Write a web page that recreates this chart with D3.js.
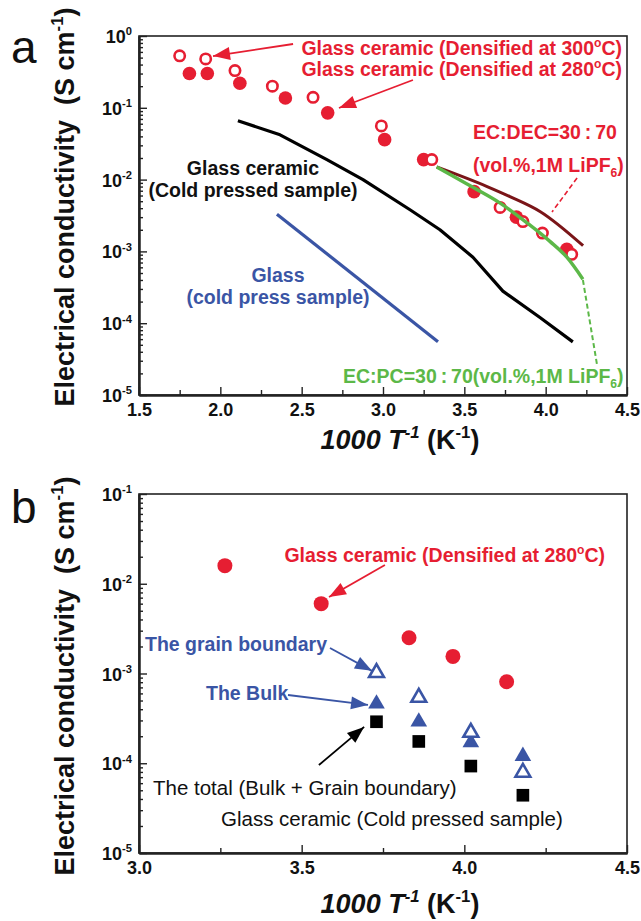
<!DOCTYPE html>
<html>
<head>
<meta charset="utf-8">
<script src="https://cdn.jsdelivr.net/npm/d3@7"></script>
<style>
body { margin: 0; background: #fff; }
text { font-family: "Liberation Sans", Arial, sans-serif; }
</style>
</head>
<body>
<svg id="chart" width="641" height="921"></svg>
<script>
// ---- panel a ----
var a300X = [1.75, 1.91, 2.09, 2.32, 2.57, 2.99, 3.30, 3.72, 3.86, 3.98, 4.16];
var a300Y = [0.53, 0.48, 0.33, 0.20, 0.14, 0.056, 0.019, 0.0041, 0.0026, 0.0018, 0.00091];
var a280X = [1.81, 1.92, 2.12, 2.40, 2.66, 3.01, 3.25, 3.56, 3.82, 4.13];
var a280Y = [0.30, 0.30, 0.22, 0.137, 0.085, 0.036, 0.019, 0.0068, 0.0030, 0.00107];
var decX = [3.33, 3.64, 3.78, 3.965, 4.23];
var decY = [0.015, 0.0080, 0.0058, 0.0036, 0.0012];
var pcX = [3.33, 3.553, 3.72, 3.885, 4.026, 4.13, 4.229];
var pcY = [0.015, 0.0078, 0.0047, 0.0025, 0.00138, 0.00083, 0.00041];
var coldX = [2.108, 2.367, 2.655, 2.877, 3.166, 3.35, 3.553, 3.737, 3.965, 4.167];
var coldY = [0.066, 0.042, 0.019, 0.010, 0.0038, 0.0020, 0.00083, 0.00028, 0.00012, 0.000055];
var glassX = [2.348, 3.338];
var glassY = [0.0033, 0.000055];

// ---- panel b ----
var b280X = [3.264, 3.56, 3.83, 3.965, 4.13];
var b280Y = [0.0159, 0.0060, 0.0025, 0.00155, 0.00081];
var bX = [3.73, 3.86, 4.02, 4.18];
var grainY = [0.00102, 0.00054, 0.00022, 0.000079];
var bulkY = [0.00046, 0.00029, 0.00017, 0.00012];
var totalY = [0.00029, 0.000175, 0.000093, 0.000044];

// ticks
var aXTicks = [1.5, 2.0, 2.5, 3.0, 3.5, 4.0, 4.5];
var bXTicks = [3.0, 3.5, 4.0, 4.5];
var aYExp = [0, -1, -2, -3, -4, -5];
var bYExp = [-1, -2, -3, -4, -5];

var RED = '#e61e32', BLUE = '#3a55a5', GREEN = '#5cb848', DARK = '#7a1518';

var svg = d3.select('#chart');

var defs = svg.append('defs');
[['red', RED], ['blue', BLUE], ['black', '#000']].forEach(function(m) {
    defs.append('marker')
        .attr('id', 'head-' + m[0])
        .attr('viewBox', '-18 -7 19 14')
        .attr('refX', 0).attr('refY', 0)
        .attr('markerUnits', 'userSpaceOnUse')
        .attr('markerWidth', 19).attr('markerHeight', 14)
        .attr('orient', 'auto')
        .append('path')
        .attr('d', 'M0,0L-17,-6.5L-17,6.5Z')
        .attr('fill', m[1]);
});

// text with sup / sub / italic parts
function rich(sel, parts, size) {
    var shift = 0;
    parts.forEach(function(p) {
        var target = p.sup ? -size * 0.42 : (p.sub ? size * 0.28 : 0);
        var ts = sel.append('tspan').text(p.t).attr('dy', target - shift);
        shift = target;
        if (p.sup || p.sub) ts.attr('font-size', size * 0.62);
        if (p.it) ts.attr('font-style', 'italic');
    });
    return sel;
}

function frame(x, y, xTicks, yExp, minorX) {
    var g = svg.append('g');
    var x0 = x.range()[0], x1 = x.range()[1], y0 = y.range()[1], y1 = y.range()[0];
    g.append('rect')
        .attr('x', x0).attr('y', y0)
        .attr('width', x1 - x0).attr('height', y1 - y0)
        .attr('fill', 'none').attr('stroke', '#222').attr('stroke-width', 1.6);

    // minor y ticks
    var minor = [];
    yExp.forEach(function(e) {
        for (var k = 2; k <= 9; k++) {
            var v = k * Math.pow(10, e - 1);
            if (v > y.domain()[0] && v < y.domain()[1]) minor.push(v);
        }
    });
    g.append('g').attr('transform', 'translate(' + x0 + ',0)')
        .call(d3.axisLeft(y).tickValues(minor).tickSizeInner(-4).tickSizeOuter(0).tickFormat(''));
    var yMajor = g.append('g').attr('transform', 'translate(' + x0 + ',0)')
        .call(d3.axisLeft(y).tickValues(yExp.map(function(e) { return Math.pow(10, e); }))
            .tickSizeInner(-8).tickSizeOuter(0).tickPadding(7).tickFormat(''));
    yMajor.selectAll('.tick text').remove();
    yMajor.selectAll('.tick').append('text')
        .attr('x', -7).attr('y', 6.5)
        .attr('text-anchor', 'end').attr('fill', '#111')
        .attr('font-size', 18).attr('font-weight', 'bold')
        .each(function(d) {
            var e = Math.round(Math.log10(d));
            rich(d3.select(this), [{t: '10'}, {t: String(e), sup: true}], 18);
        });

    g.append('g').attr('transform', 'translate(0,' + y1 + ')')
        .call(d3.axisBottom(x).tickValues(minorX).tickSizeInner(-5).tickSizeOuter(0).tickFormat(''));
    var xMajor = g.append('g').attr('transform', 'translate(0,' + y1 + ')')
        .call(d3.axisBottom(x).tickValues(xTicks).tickSizeInner(-8).tickSizeOuter(0)
            .tickPadding(10).tickFormat(d3.format('.1f')));
    xMajor.selectAll('.tick text')
        .attr('y', 21).attr('dy', 0)
        .attr('font-size', 18).attr('font-weight', 'bold').attr('fill', '#111')
        .attr('font-family', '"Liberation Sans", Arial, sans-serif');

    g.selectAll('.domain').attr('stroke', '#222').attr('stroke-width', 2);
    g.selectAll('.tick line').attr('stroke', '#222').attr('stroke-width', 1.4);
    return g;
}

function yTitle(cx, cy) {
    var t = svg.append('text')
        .attr('transform', 'translate(' + cx + ',' + cy + ') rotate(-90)')
        .attr('text-anchor', 'middle').attr('font-size', 27).attr('font-weight', 'bold').attr('fill', '#111');
    rich(t, [{t: 'Electrical conductivity\u00a0\u00a0(S cm'}, {t: '-1', sup: true}, {t: ')'}], 27);
}

function xTitle(cx, cy) {
    var t = svg.append('text')
        .attr('x', cx).attr('y', cy)
        .attr('text-anchor', 'middle').attr('font-size', 27).attr('font-weight', 'bold').attr('fill', '#111');
    rich(t, [{t: '1000 T', it: true}, {t: '-1', sup: true, it: true}, {t: ' (K'}, {t: '-1', sup: true}, {t: ')'}], 27);
}

function note(x, y, parts, color, anchor, weight, size) {
    var t = svg.append('text')
        .attr('x', x).attr('y', y)
        .attr('text-anchor', anchor || 'start')
        .attr('font-size', size || 19.5)
        .attr('font-weight', weight || 'bold')
        .attr('fill', color);
    rich(t, parts, size || 19.5);
}

function arrow(x, y, from, to, color, head) {
    svg.append('line')
        .attr('x1', x(from[0])).attr('y1', y(from[1]))
        .attr('x2', x(to[0])).attr('y2', y(to[1]))
        .attr('stroke', color).attr('stroke-width', 1.8)
        .attr('marker-end', 'url(#head-' + head + ')');
}

function zip(xs, ys) { return xs.map(function(v, i) { return [v, ys[i]]; }); }

// ================= panel a =================
var xa = d3.scaleLinear().domain([1.5, 4.5]).range([139, 627]);
var ya = d3.scaleLog().domain([1e-5, 1]).range([395, 36]);
frame(xa, ya, aXTicks, aYExp, [1.75, 2.25, 2.75, 3.25, 3.75, 4.25]);

var lineA = d3.line()
    .x(function(d) { return xa(d[0]); }).y(function(d) { return ya(d[1]); });
var smoothA = d3.line().curve(d3.curveMonotoneX)
    .x(function(d) { return xa(d[0]); }).y(function(d) { return ya(d[1]); });

svg.append('path').datum(zip(coldX, coldY)).attr('d', lineA)
    .attr('fill', 'none').attr('stroke', '#000').attr('stroke-width', 3.2)
    .attr('stroke-linejoin', 'round');
svg.append('path').datum(zip(glassX, glassY)).attr('d', lineA)
    .attr('fill', 'none').attr('stroke', BLUE).attr('stroke-width', 3.2);

// filled 280 C, open 300 C
svg.append('g').selectAll('circle').data(zip(a280X, a280Y)).enter().append('circle')
    .attr('cx', function(d) { return xa(d[0]); })
    .attr('cy', function(d) { return ya(d[1]); })
    .attr('r', 6.8).attr('fill', RED);
svg.append('g').selectAll('circle').data(zip(a300X, a300Y)).enter().append('circle')
    .attr('cx', function(d) { return xa(d[0]); })
    .attr('cy', function(d) { return ya(d[1]); })
    .attr('r', 5.2).attr('fill', '#fff').attr('stroke', RED).attr('stroke-width', 2.6);

svg.append('path').datum(zip(decX, decY)).attr('d', smoothA)
    .attr('fill', 'none').attr('stroke', DARK).attr('stroke-width', 3);
svg.append('path').datum(zip(pcX, pcY)).attr('d', smoothA)
    .attr('fill', 'none').attr('stroke', GREEN).attr('stroke-width', 3.4);

// dashed leaders
svg.append('line')
    .attr('x1', xa(4.193)).attr('y1', ya(0.0105)).attr('x2', xa(4.039)).attr('y2', ya(0.00354))
    .attr('stroke', RED).attr('stroke-width', 1.6).attr('stroke-dasharray', '5,3');
svg.append('line')
    .attr('x1', xa(4.229)).attr('y1', ya(0.0004)).attr('x2', xa(4.315)).attr('y2', ya(0.000027))
    .attr('stroke', GREEN).attr('stroke-width', 2).attr('stroke-dasharray', '5,3');

arrow(xa, ya, [2.447, 0.774], [1.955, 0.526], RED, 'red');
arrow(xa, ya, [3.184, 0.244], [2.729, 0.0994], RED, 'red');

note(622, 55, [{t: 'Glass ceramic (Densified at 300'}, {t: 'o', sup: true}, {t: 'C)'}], RED, 'end');
note(622, 76, [{t: 'Glass ceramic (Densified at 280'}, {t: 'o', sup: true}, {t: 'C)'}], RED, 'end');
note(473, 139, [{t: 'EC:DEC=30\u2009:\u200970'}], RED);
note(473, 172, [{t: '(vol.%,1M LiPF'}, {t: '6', sub: true}, {t: ')'}], RED);
note(253, 175, [{t: 'Glass ceramic'}], '#111', 'middle');
note(253, 197, [{t: '(Cold pressed sample)'}], '#111', 'middle');
note(278, 282, [{t: 'Glass'}], BLUE, 'middle');
note(278, 304, [{t: '(cold press sample)'}], BLUE, 'middle');
note(343, 383, [{t: 'EC:PC=30\u2009:\u200970(vol.%,1M LiPF'}, {t: '6', sub: true}, {t: ')'}], GREEN);

yTitle(74, 207);
xTitle(400, 449);
svg.append('text').attr('x', 11).attr('y', 63)
    .attr('font-size', 46).attr('fill', '#111').text('a');

// ================= panel b =================
var xb = d3.scaleLinear().domain([3.0, 4.5]).range([139, 627]);
var yb = d3.scaleLog().domain([1e-5, 1e-1]).range([853, 494]);
frame(xb, yb, bXTicks, bYExp, [3.25, 3.75, 4.25]);

svg.append('g').selectAll('circle').data(zip(b280X, b280Y)).enter().append('circle')
    .attr('cx', function(d) { return xb(d[0]); })
    .attr('cy', function(d) { return yb(d[1]); })
    .attr('r', 7.5).attr('fill', RED);

var tri = d3.symbol().type(d3.symbolTriangle).size(120);
svg.append('g').selectAll('path').data(zip(bX, totalY)).enter().append('path')
    .attr('transform', function(d) { return 'translate(' + xb(d[0]) + ',' + yb(d[1]) + ')'; })
    .attr('d', d3.symbol().type(d3.symbolSquare).size(160))
    .attr('fill', '#000');
svg.append('g').selectAll('path').data(zip(bX, bulkY)).enter().append('path')
    .attr('transform', function(d) { return 'translate(' + xb(d[0]) + ',' + yb(d[1]) + ')'; })
    .attr('d', tri).attr('fill', BLUE);
svg.append('g').selectAll('path').data(zip(bX, grainY)).enter().append('path')
    .attr('transform', function(d) { return 'translate(' + xb(d[0]) + ',' + yb(d[1]) + ')'; })
    .attr('d', d3.symbol().type(d3.symbolTriangle).size(95))
    .attr('fill', '#fff').attr('stroke', BLUE).attr('stroke-width', 2.6);

arrow(xb, yb, [3.756, 0.01618], [3.584, 0.00711], RED, 'red');
arrow(xb, yb, [3.587, 0.00192], [3.716, 0.00107], BLUE, 'blue');
arrow(xb, yb, [3.458, 0.000576], [3.704, 0.000446], BLUE, 'blue');
arrow(xb, yb, [3.553, 0.0000955], [3.692, 0.000254], '#000', 'black');

note(605, 562, [{t: 'Glass ceramic (Densified at 280'}, {t: 'o', sup: true}, {t: 'C)'}], RED, 'end');
note(145, 651, [{t: 'The grain boundary'}], BLUE);
note(206, 700, [{t: 'The Bulk'}], BLUE);
note(153, 795, [{t: 'The total (Bulk + Grain boundary)'}], '#111', 'start', 'normal', 20.5);
note(221, 826, [{t: 'Glass ceramic (Cold pressed sample)'}], '#111', 'start', 'normal', 20.5);

yTitle(74, 676);
xTitle(400, 913);
svg.append('text').attr('x', 11).attr('y', 523)
    .attr('font-size', 46).attr('fill', '#111').text('b');
</script>
</body>
</html>
